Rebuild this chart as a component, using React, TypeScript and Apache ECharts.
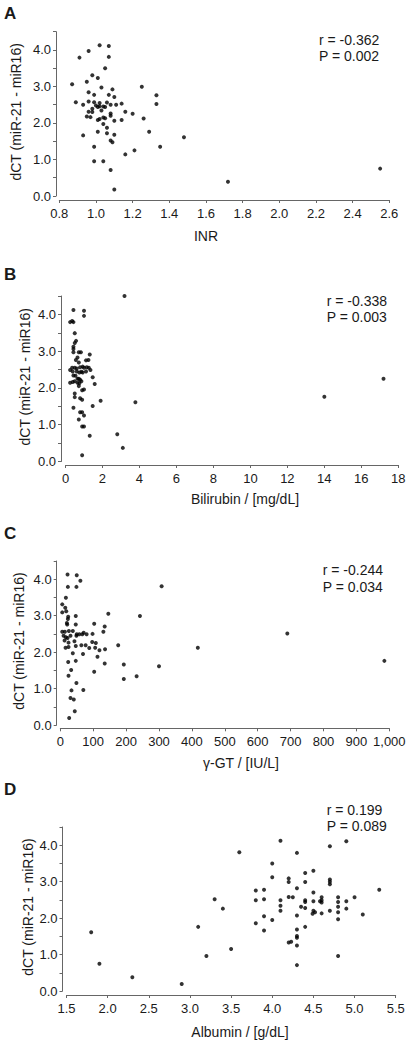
import React, { useEffect, useRef } from "react";
import * as echarts from "echarts";

// ---- Data ----
const yTitle = "dCT (miR-21 - miR16)";
const panelLetters = ["A", "B", "C", "D"];
const xTitles = ["INR", "Bilirubin / [mg/dL]", "γ-GT / [IU/L]", "Albumin / [g/dL]"];
const rTexts = ["r = -0.362", "r = -0.338", "r = -0.244", "r = 0.199"];
const pTexts = ["P = 0.002", "P = 0.003", "P = 0.034", "P = 0.089"];

const inrData = [
  [1.02, 4.13], [1.07, 4.11], [0.96, 3.97], [0.91, 3.79], [1.07, 3.81], [1.05, 3.5], [0.98, 3.31], [1.01, 3.23],
  [0.87, 3.06], [0.95, 3.13], [1.03, 2.97], [1.09, 2.92], [1.25, 2.99], [0.96, 2.84], [0.99, 2.77], [1.07, 2.77],
  [1.1, 2.71], [1.33, 2.76], [0.89, 2.57], [0.96, 2.59], [0.99, 2.57], [1.02, 2.55], [1.06, 2.56], [0.93, 2.5],
  [1.0, 2.48], [1.02, 2.46], [1.04, 2.45], [1.05, 2.44], [1.08, 2.5], [1.11, 2.5], [1.14, 2.53], [1.33, 2.52],
  [1.01, 2.44], [0.98, 2.39], [0.96, 2.31], [0.98, 2.3], [1.03, 2.34], [1.08, 2.26], [1.08, 2.2], [1.16, 2.31],
  [1.2, 2.25], [0.95, 2.18], [0.97, 2.16], [1.04, 2.15], [1.05, 2.13], [1.02, 2.11], [1.01, 2.08], [1.1, 2.06],
  [1.14, 2.08], [1.26, 2.12], [1.04, 1.97], [1.06, 1.87], [0.93, 1.66], [1.01, 1.76], [1.06, 1.72], [1.1, 1.68],
  [1.29, 1.76], [1.48, 1.61], [1.08, 1.52], [1.09, 1.47], [0.99, 1.35], [1.35, 1.35], [1.16, 1.14], [1.21, 1.25],
  [0.99, 0.95], [1.04, 0.95], [1.08, 0.71], [1.1, 0.18], [1.72, 0.39], [2.55, 0.75],
];

const bilirubinData = [
  [3.19, 4.5], [0.43, 4.12], [1.0, 4.1], [1.0, 3.96], [0.25, 3.79], [0.36, 3.82], [0.43, 3.79], [0.5, 3.49],
  [0.57, 3.28], [0.5, 3.22], [0.43, 3.12], [0.43, 3.06], [0.43, 2.97], [0.72, 2.97], [0.83, 2.97], [1.31, 2.91],
  [0.65, 2.83], [0.56, 2.76], [1.11, 2.75], [1.24, 2.76], [0.72, 2.69], [0.25, 2.49], [0.36, 2.55], [0.5, 2.55],
  [0.61, 2.53], [0.79, 2.56], [0.93, 2.58], [1.0, 2.55], [1.15, 2.56], [1.26, 2.55], [1.35, 2.49], [0.39, 2.45],
  [0.61, 2.45], [0.75, 2.42], [0.86, 2.44], [0.93, 2.42], [1.11, 2.45], [0.43, 2.34], [0.54, 2.33], [0.65, 2.25],
  [0.72, 2.25], [0.79, 2.22], [0.25, 2.14], [0.39, 2.16], [0.5, 2.18], [0.65, 2.14], [0.75, 2.13], [0.86, 2.18],
  [1.47, 2.29], [1.58, 2.11], [0.72, 2.05], [0.9, 1.94], [1.0, 1.96], [0.5, 1.85], [0.5, 1.75], [0.79, 1.72],
  [0.9, 1.68], [1.9, 1.65], [3.78, 1.61], [0.43, 1.46], [1.47, 1.51], [0.79, 1.34], [0.9, 1.34], [1.0, 1.25],
  [0.72, 1.14], [0.9, 0.95], [1.0, 0.95], [1.31, 0.7], [2.8, 0.74], [3.1, 0.37], [0.9, 0.17], [14.0, 1.76],
  [17.2, 2.25],
];

const ggtData = [
  [55, 4.51], [22, 4.13], [50, 4.11], [61, 3.96], [23, 3.79], [49, 3.79], [308, 3.81], [17, 3.49], [6, 3.31],
  [15, 3.22], [18, 3.12], [6, 3.09], [24, 2.97], [23, 2.91], [47, 2.99], [146, 3.05], [242, 2.99], [20, 2.8],
  [21, 2.76], [47, 2.76], [103, 2.78], [135, 2.7], [131, 2.56], [6, 2.56], [14, 2.56], [26, 2.58], [38, 2.58],
  [50, 2.49], [58, 2.49], [67, 2.49], [71, 2.53], [80, 2.49], [98, 2.5], [10, 2.45], [17, 2.41], [22, 2.39],
  [31, 2.45], [49, 2.45], [13, 2.32], [25, 2.26], [43, 2.3], [97, 2.28], [108, 2.25], [16, 2.12], [47, 2.17],
  [64, 2.19], [77, 2.19], [88, 2.11], [106, 2.12], [119, 2.05], [136, 2.08], [176, 2.19], [25, 2.14], [38, 1.97],
  [69, 1.95], [113, 1.87], [24, 1.73], [47, 1.76], [135, 1.69], [193, 1.66], [300, 1.61], [103, 1.46], [33, 1.51],
  [25, 1.35], [193, 1.26], [232, 1.34], [49, 1.15], [34, 0.95], [70, 0.96], [31, 0.74], [41, 0.7], [44, 0.38],
  [27, 0.19], [418, 2.12], [690, 2.51], [985, 1.76],
];

const albuminData = [
  [1.8, 1.61], [1.9, 0.75], [2.3, 0.38], [2.7, 4.51], [2.9, 0.19], [3.1, 1.76], [3.2, 0.96], [3.3, 2.52],
  [3.4, 2.26], [3.5, 1.15], [3.6, 3.81], [4.1, 4.12], [4.3, 3.79], [4.7, 3.97], [4.9, 4.11], [4.0, 3.5],
  [4.0, 3.12], [4.2, 3.09], [4.2, 2.99], [4.4, 3.24], [4.5, 3.3], [4.4, 2.99], [4.7, 3.06], [4.7, 3.0],
  [4.7, 2.93], [3.8, 2.76], [3.9, 2.78], [4.3, 2.82], [4.5, 2.7], [5.3, 2.78], [3.8, 2.49], [3.9, 2.52],
  [4.1, 2.49], [4.2, 2.58], [4.25, 2.57], [4.4, 2.49], [4.4, 2.44], [4.5, 2.46], [4.6, 2.57], [4.6, 2.49],
  [4.6, 2.43], [4.58, 2.46], [4.8, 2.57], [4.8, 2.44], [4.9, 2.46], [5.0, 2.57], [4.1, 2.34], [4.1, 2.2],
  [4.35, 2.31], [4.4, 2.28], [4.5, 2.2], [4.49, 2.12], [4.52, 2.16], [4.7, 2.2], [4.8, 2.31], [4.8, 2.16],
  [4.9, 2.26], [4.6, 2.13], [5.1, 2.1], [4.3, 2.07], [4.8, 1.97], [3.8, 1.86], [3.9, 2.05], [4.0, 1.95],
  [3.9, 1.66], [4.4, 1.76], [4.3, 1.69], [4.3, 1.51], [4.3, 1.46], [4.2, 1.33], [4.23, 1.35], [4.3, 1.25],
  [4.8, 0.96], [4.3, 0.71],
];

const xMins = [0.8, 0, 0, 1.5];
const xMaxs = [2.6, 18, 1000, 5.5];
const xSteps = [0.2, 2, 100, 0.5];
const yMin = 0;
const yMax = 4.5;
const yStep = 0.5;

// ---- Layout (pixels) ----
const FONT = "'Liberation Sans', Arial, Helvetica, sans-serif";
const AXIS = "#666666";
const TEXT = "#1a1a1a";

const layout = [
  { left: 59.3, right: 389.3, top: 31.7, bottom: 196, yOff: 3.3, xOff: 4, letterY: 13.5, rX: 319, rY: 40, pY: 56, yTitleX: 15.5, xTitleX: 206, xTitleY: 236 },
  { left: 65.5, right: 398.3, top: 296, bottom: 461.5, yOff: 4.5, xOff: 3.5, letterY: 274, rX: 326.7, rY: 301, pY: 317.3, yTitleX: 25, xTitleX: 245, xTitleY: 499 },
  { left: 60.3, right: 389.3, top: 561, bottom: 725, yOff: 3.6, xOff: 3.3, letterY: 533.5, rX: 322.7, rY: 570, pY: 586.7, yTitleX: 19, xTitleX: 241, xTitleY: 763 },
  { left: 66.5, right: 395.7, top: 827, bottom: 991, yOff: 4, xOff: 4, letterY: 789, rX: 326.7, rY: 810, pY: 826, yTitleX: 27.5, xTitleX: 240, xTitleY: 1032 },
];

const datasets = [inrData, bilirubinData, ggtData, albuminData];

const xFormatters = [
  (v: number) => v.toFixed(1),
  (v: number) => String(Math.round(v)),
  (v: number) => Math.round(v).toLocaleString("en-US"),
  (v: number) => v.toFixed(1),
];

export default function App() {
  const ref = useRef<HTMLDivElement>(null);

  useEffect(() => {
    if (!ref.current) return;
    const chart = echarts.init(ref.current, undefined, { renderer: "svg" });

    const grid = layout.map((l) => ({
      left: l.left,
      top: l.top,
      width: l.right - l.left,
      height: l.bottom - l.top,
      containLabel: false,
    }));

    const xAxis = layout.map((l, i) => ({
      gridIndex: i,
      type: "value",
      min: xMins[i],
      max: xMaxs[i],
      interval: xSteps[i],
      offset: l.xOff,
      axisLine: { show: true, onZero: false, lineStyle: { color: AXIS, width: 1 } },
      axisTick: { show: true, length: 3, lineStyle: { color: AXIS, width: 1 } },
      axisLabel: {
        show: true,
        showMinLabel: true,
        showMaxLabel: true,
        margin: 7,
        fontSize: 13,
        fontFamily: FONT,
        color: TEXT,
        formatter: xFormatters[i],
      },
      splitLine: { show: false },
    }));

    const yAxis = layout.map((l, i) => ({
      gridIndex: i,
      type: "value",
      min: yMin,
      max: yMax,
      interval: yStep,
      offset: l.yOff,
      axisLine: { show: true, onZero: false, lineStyle: { color: AXIS, width: 1 } },
      axisTick: { show: true, length: 3, lineStyle: { color: AXIS, width: 1 } },
      axisLabel: {
        show: true,
        margin: 5,
        fontSize: 13,
        fontFamily: FONT,
        color: TEXT,
        formatter: (v: number) => (Math.abs(v - Math.round(v)) < 1e-6 && v < 4.4 ? v.toFixed(1) : ""),
      },
      splitLine: { show: false },
    }));

    const series = datasets.map((d, i) => ({
      type: "scatter",
      xAxisIndex: i,
      yAxisIndex: i,
      data: d,
      symbol: "circle",
      symbolSize: 4,
      itemStyle: { color: "#000000" },
      silent: true,
    }));

    const txt = (text: string, x: number, y: number, font: string, align = "left", rotation = 0) => ({
      type: "text",
      x,
      y,
      rotation,
      silent: true,
      style: {
        text,
        font,
        fill: TEXT,
        textAlign: align,
        textVerticalAlign: "middle",
        align,
        verticalAlign: "middle",
      },
    });

    const graphic: any[] = [];
    layout.forEach((l, i) => {
      graphic.push(txt(panelLetters[i], 4, l.letterY, `bold 17px ${FONT}`));
      graphic.push(txt(rTexts[i], l.rX, l.rY, `14px ${FONT}`));
      graphic.push(txt(pTexts[i], l.rX, l.pY, `14px ${FONT}`));
      graphic.push(txt(xTitles[i], l.xTitleX, l.xTitleY, `14px ${FONT}`, "center"));
      graphic.push(
        txt(yTitle, l.yTitleX, (l.top + l.bottom) / 2 - 2, `14px ${FONT}`, "center", Math.PI / 2)
      );
    });

    chart.setOption({
      animation: false,
      backgroundColor: "#ffffff",
      grid,
      xAxis,
      yAxis,
      series,
      graphic,
    } as any);

    return () => chart.dispose();
  }, []);

  return (
    <div
      ref={ref}
      style={{ position: "fixed", left: 0, top: 0, width: 412, height: 1043, background: "#fff" }}
    />
  );
}
